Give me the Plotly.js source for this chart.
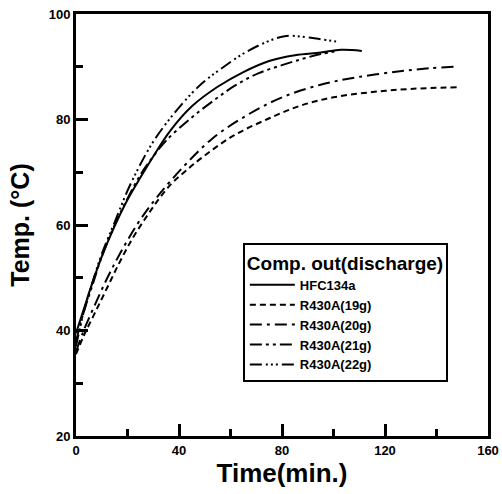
<!DOCTYPE html>
<html>
<head>
<meta charset="utf-8">
<script src="https://cdn.plot.ly/plotly-3.0.1.min.js"></script>
<style>html,body{margin:0;padding:0;background:#fff;}#chart{width:502px;height:494px;}</style>
</head>
<body>
<div id="chart"></div>
<script>
// Series names
const seriesNames = ["HFC134a", "R430A(19g)", "R430A(20g)", "R430A(21g)", "R430A(22g)"];

// HFC134a (solid)
const tHFC = [0, 3, 6, 10, 15, 20, 25, 30, 36.5, 45, 55, 65, 75, 85, 95, 103, 111];
const vHFC = [39.5, 44, 48.5, 54, 59.8, 64.8, 69, 73, 77.8, 82.5, 86.2, 89, 91.1, 92.2, 92.7, 93.2, 93.0];

// R430A(19g) (dashed)
const t19 = [0, 3, 7, 12, 17, 22, 27, 32, 37, 42, 49, 61, 74, 87, 100, 115, 130, 148];
const v19 = [35.5, 39, 43, 48, 53, 57.5, 61.3, 64.8, 67.8, 70, 72.8, 76.9, 80, 82.6, 84.2, 85.2, 85.8, 86.1];

// R430A(20g) (dash-dot)
const t20 = [0, 3, 7, 12, 17, 24, 31, 42, 53, 66, 80, 95, 109, 125, 137, 147];
const v20 = [36, 40, 44.5, 49.8, 54.5, 60.3, 65, 71.2, 76.4, 80.7, 84.2, 86.6, 88, 89.1, 89.7, 90];

// R430A(21g)
const t21 = [0, 3, 6, 10, 15, 20, 25, 30, 35, 44, 54, 62, 71, 80, 88, 95, 102];
const v21 = [38, 43.5, 48, 54, 60, 65, 69.5, 73, 76, 80, 83.8, 86.5, 88.8, 90.3, 91.5, 92.4, 93];

// R430A(22g)
const t22 = [0, 3, 6, 10, 15, 20, 25, 30, 37, 45, 50, 56, 65, 74, 81, 88, 95, 101];
const v22 = [37, 43.5, 48.5, 54.5, 60.5, 66.5, 71.5, 75.8, 80.5, 85, 87.3, 89.5, 92.5, 94.7, 95.8, 95.7, 95.2, 94.8];

// Tick labels
const xTickVals = [0, 40, 80, 120, 160];
const yTickVals = [20, 40, 60, 80, 100];

const dashes = ["solid", "6px,4px", "12px,5px,3px,5px", "12px,4px,3px,4px,3px,4px", "12px,4px,2px,3px,2px,3px,2px,4px"];
const xs = [tHFC, t19, t20, t21, t22];
const ys = [vHFC, v19, v20, v21, v22];

const traces = seriesNames.map((n, i) => ({
  x: xs[i], y: ys[i], name: n, type: "scatter", mode: "lines",
  line: {color: "#000", width: 2, dash: dashes[i], shape: "spline", smoothing: 1}
}));

const font = "Arial, 'Liberation Sans', sans-serif";
const layout = {
  width: 502, height: 494,
  margin: {l: 76, r: 14, t: 14, b: 58},
  paper_bgcolor: "#fff", plot_bgcolor: "#fff",
  showlegend: true,
  font: {family: font, color: "#000"},
  xaxis: {
    range: [0, 160], tickvals: xTickVals, ticks: "inside", ticklen: 12, tickwidth: 3,
    tickcolor: "#000", showline: true, linewidth: 3, linecolor: "#000", mirror: true,
    showgrid: false, zeroline: false,
    tickfont: {size: 13, weight: "bold", family: font},
    minor: {dtick: 20, ticks: "inside", ticklen: 7, tickwidth: 3, tickcolor: "#000", showgrid: false},
    title: {text: "Time(min.)", font: {size: 26, weight: "bold", family: font}, standoff: 4}
  },
  yaxis: {
    range: [20, 100], tickvals: yTickVals, ticks: "inside", ticklen: 12, tickwidth: 3,
    tickcolor: "#000", showline: true, linewidth: 3, linecolor: "#000", mirror: true,
    showgrid: false, zeroline: false,
    tickfont: {size: 13, weight: "bold", family: font},
    minor: {dtick: 10, ticks: "inside", ticklen: 7, tickwidth: 3, tickcolor: "#000", showgrid: false},
    title: {text: "Temp. (°C)", font: {size: 25, weight: "bold", family: font}, standoff: 12}
  },
  legend: {
    x: 0.405, y: 0.457, xanchor: "left", yanchor: "top",
    bordercolor: "#000", borderwidth: 2, bgcolor: "#fff",
    itemwidth: 45,
    font: {size: 13, weight: "bold", family: font},
    title: {text: "Comp. out(discharge)", font: {size: 19, weight: "bold", family: font}, side: "top"},
    tracegroupgap: 0
  }
};

Plotly.newPlot("chart", traces, layout, {displayModeBar: false, staticPlot: true});
</script>
</body>
</html>
